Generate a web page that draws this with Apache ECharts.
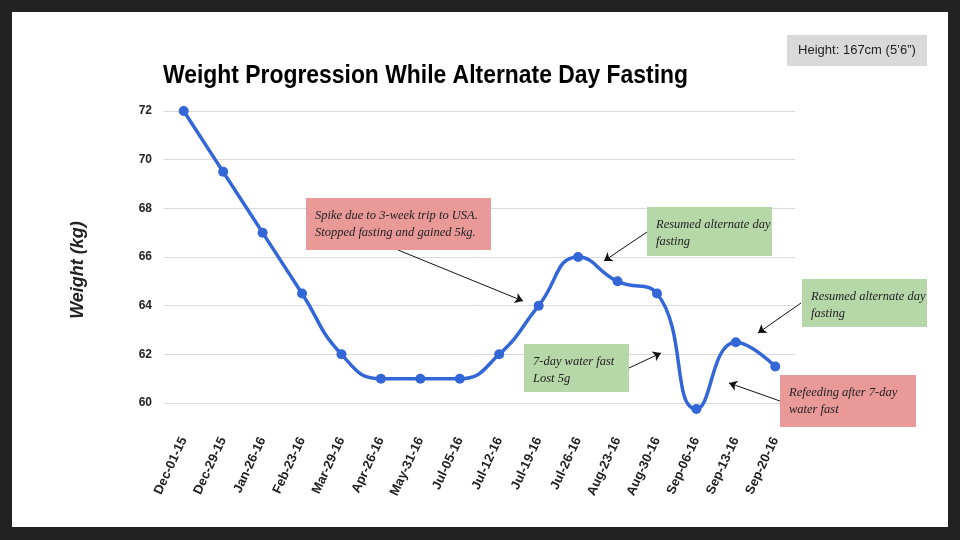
<!DOCTYPE html>
<html>
<head>
<meta charset="utf-8">
<script src="https://cdn.jsdelivr.net/npm/echarts@6/dist/echarts.min.js"></script>
<style>
  html, body { margin: 0; padding: 0; background: #222; }
  #slide { position: absolute; left: 12px; top: 12px; width: 936px; height: 515px; background: #fff; }
  #chart { position: absolute; left: 0; top: 0; width: 960px; height: 540px; }
</style>
</head>
<body>
<div id="slide"></div>
<div id="chart"></div>
<script>
// weigh-in dates and weight in kg
const dates = ["Dec-01-15", "Dec-29-15", "Jan-26-16", "Feb-23-16", "Mar-29-16", "Apr-26-16",
  "May-31-16", "Jul-05-16", "Jul-12-16", "Jul-19-16", "Jul-26-16", "Aug-23-16",
  "Aug-30-16", "Sep-06-16", "Sep-13-16", "Sep-20-16"];
const weights = [72, 69.5, 67, 64.5, 62, 61, 61, 61, 62, 64, 66, 65, 64.5, 59.75, 62.5, 61.5];
const yTicks = [60, 62, 64, 66, 68, 70, 72];

const titleText = "Weight Progression While Alternate Day Fasting";
const noteTexts = [
  ["Spike due to 3-week trip to USA.", "Stopped fasting and gained 5kg."],
  ["Resumed alternate day", "fasting"],
  ["Resumed alternate day", "fasting"],
  ["7-day water fast", "Lost 5g"],
  ["Refeeding after 7-day", "water fast"]
];

// box + arrow layout for each note (pixels)
const noteLayout = [
  { x: 306, y: 198, w: 185, h: 52, fill: "#ea9999", from: [398, 250], to: [523, 301] },
  { x: 647, y: 207, w: 125, h: 49, fill: "#b6d7a8", from: [647, 232], to: [604, 261] },
  { x: 802, y: 279, w: 125, h: 48, fill: "#b6d7a8", from: [801, 303], to: [758, 333] },
  { x: 524, y: 344, w: 105, h: 48, fill: "#b6d7a8", from: [629, 368], to: [661, 353] },
  { x: 780, y: 375, w: 136, h: 52, fill: "#ea9999", from: [780, 401], to: [729, 383] }
];

const chart = echarts.init(document.getElementById("chart"), null, { renderer: "canvas" });

// title in the slide is a horizontally squeezed Arial bold
const titleFont = "bold 25px 'Liberation Sans', Arial, sans-serif";
const ctx = document.createElement("canvas").getContext("2d");
ctx.font = titleFont;
const titleScale = 525 / ctx.measureText(titleText).width;

const graphic = [];
noteLayout.forEach((b, i) => {
  graphic.push({
    type: "rect", shape: { x: b.x, y: b.y, width: b.w, height: b.h },
    style: { fill: b.fill }, z: 10
  });
  graphic.push({
    type: "text", x: b.x + 9, y: b.y + 9, z: 11,
    style: {
      text: noteTexts[i].join("\n"), fill: "#222", lineHeight: 17,
      font: "italic 12.5px 'Liberation Serif', 'DejaVu Serif', serif"
    }
  });
});
graphic.push({
  type: "rect", shape: { x: 787, y: 35, width: 140, height: 31 },
  style: { fill: "#d9d9d9" }, z: 10
});
graphic.push({
  type: "text", x: 857, y: 50, z: 11,
  style: {
    text: "Height: 167cm (5’6”)", fill: "#222", align: "center", verticalAlign: "middle",
    font: "13px 'Liberation Sans', Arial, sans-serif"
  }
});
graphic.push({
  type: "text", x: 78, y: 270, rotation: Math.PI / 2, z: 11,
  style: {
    text: "Weight (kg)", fill: "#222", align: "center", verticalAlign: "middle",
    font: "italic bold 18px 'Liberation Sans', Arial, sans-serif"
  }
});
graphic.push({
  type: "text", x: 163, y: 76, scaleX: titleScale, z: 11,
  style: { text: titleText, fill: "#000", verticalAlign: "middle", font: titleFont }
});

chart.setOption({
  animation: false,
  backgroundColor: "transparent",
  grid: { left: 164, right: 165, top: 111, bottom: 137 },
  xAxis: {
    type: "category", data: dates, boundaryGap: true,
    axisLine: { show: false }, axisTick: { show: false },
    axisLabel: { rotate: 65, margin: 35, interval: 0, color: "#222",
      fontSize: 13, fontWeight: "bold", fontFamily: "'Liberation Sans', Arial, sans-serif" }
  },
  yAxis: {
    type: "value", min: yTicks[0], max: yTicks[yTicks.length - 1], interval: 2,
    axisLine: { show: false }, axisTick: { show: false },
    splitLine: { lineStyle: { color: "#d9d9d9", width: 1 } },
    axisLabel: { margin: 12, color: "#222", fontSize: 12, fontWeight: "bold",
      fontFamily: "'Liberation Sans', Arial, sans-serif" }
  },
  series: [{
    type: "line", data: weights, smooth: 0.5, clip: false,
    symbol: "circle", symbolSize: 10,
    lineStyle: { color: "#3366d6", width: 3.5 },
    itemStyle: { color: "#3366d6" },
    markLine: {
      silent: true, symbol: ["none", "arrow"], symbolSize: 8,
      label: { show: false },
      lineStyle: { color: "#111", width: 1, type: "solid" },
      data: noteLayout.map(b => [{ x: b.from[0], y: b.from[1] }, { x: b.to[0], y: b.to[1] }])
    }
  }],
  graphic
});
</script>
</body>
</html>
